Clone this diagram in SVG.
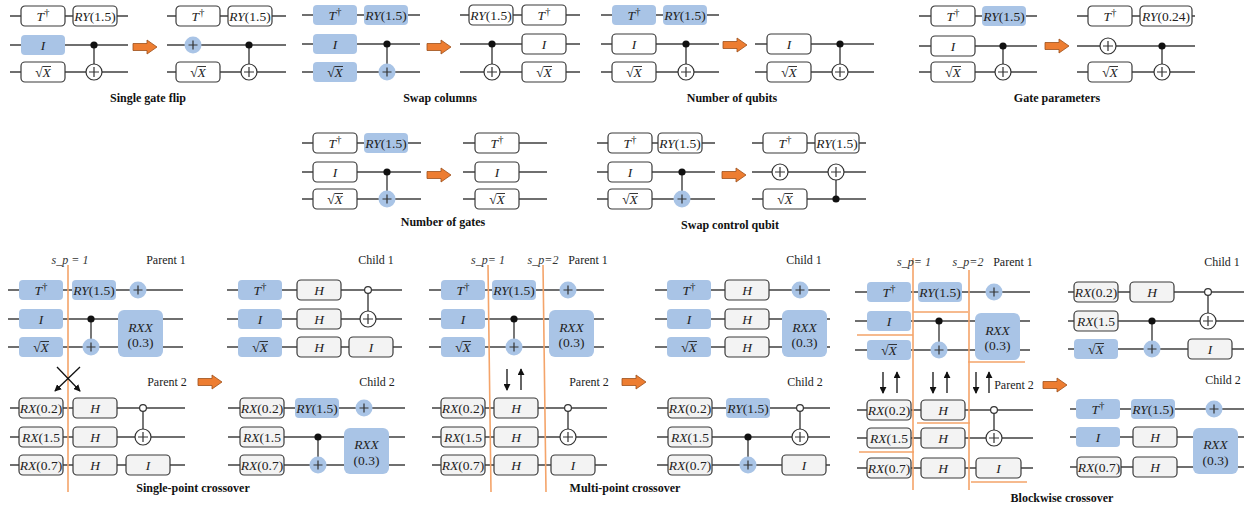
<svg xmlns="http://www.w3.org/2000/svg" xmlns:xlink="http://www.w3.org/1999/xlink" width="1244" height="508" viewBox="0 0 1244 508">
<style>
.w{stroke:#404040;stroke-width:1.3;fill:none}
.v{stroke:#303030;stroke-width:1.3;fill:none}
.g{fill:#fff;stroke:#3a3a3a;stroke-width:1.2}
.gg{fill:#f3f3f3;stroke:#3a3a3a;stroke-width:1.2}
.b{fill:#a9c4e6}
.t{font-family:"Liberation Serif",serif;font-size:13.5px;fill:#222;text-anchor:middle}
.i{font-style:italic}
.sup{font-size:10.5px}
.ov{stroke:#222;stroke-width:0.9}
.cap{font-family:"Liberation Serif",serif;font-size:12px;font-weight:bold;text-anchor:middle;fill:#111}
.lb{font-family:"Liberation Serif",serif;font-size:12px;text-anchor:middle;fill:#222}
.sp{font-family:"Liberation Serif",serif;font-size:12px;font-style:italic;text-anchor:middle;fill:#333}
.dot{fill:#111}
.od{fill:#fff;stroke:#333;stroke-width:1.2}
.tw{fill:#fff;stroke:#333;stroke-width:1.2}
.pl{stroke:#333;stroke-width:1.2;fill:none}
.oa{fill:#ED7D31;stroke:#9c4f1a;stroke-width:0.8}
.ol{stroke:#F4A46A;stroke-width:1.6;fill:none}
.ba{stroke:#111;stroke-width:1.3;fill:none;marker-end:url(#ah)}
</style>
<defs>
<marker id="ah" viewBox="0 0 8 8" refX="7" refY="4" markerWidth="7" markerHeight="7" orient="auto" markerUnits="userSpaceOnUse"><path d="M0,0L8,4L0,8Z" fill="#111"/></marker>
<g id="tgtW"><circle r="8" class="tw"/><path d="M-5,0H5M0,-5V5" class="pl"/></g>
<g id="tgtB"><circle r="8.5" class="b"/><path d="M-4.5,0H4.5M0,-4.5V4.5" class="pl"/></g>
<circle id="ctl" r="3.6" class="dot"/>
<circle id="octl" r="3.4" class="od"/>
<path id="oarrow" d="M0,-3.5H14V-7L24,0L14,7V3.5H0Z" class="oa"/>
</defs>
<rect width="1244" height="508" fill="#fff"/>

<g id="connectors">
<path class="w" d="M10,16H128M10,45H128M10,72H128M167,16H286M167,45H286M167,72H286"/>
<path class="v" d="M94,45V64M249,45V64"/>
<use xlink:href="#oarrow" x="133" y="47"/>
<path class="w" d="M302,15H420M302,44H420M302,72H420M460,15H580M460,44H580M460,72H580"/>
<path class="v" d="M387,44V64M492,44V64"/>
<use xlink:href="#oarrow" x="427" y="47"/>
<path class="w" d="M601,15H719M601,44H719M601,72H719M755,44H874M755,72H874"/>
<path class="v" d="M686,44V64M840,44V64"/>
<use xlink:href="#oarrow" x="723" y="45"/>
<path class="w" d="M919,16H1037M919,46H1037M919,72H1037M1077,16H1195M1077,46H1195M1077,72H1195"/>
<path class="v" d="M1003,46V64M1162,46V64"/>
<use xlink:href="#oarrow" x="1045" y="46"/>
<path class="w" d="M302,143H421M302,172H421M302,199H421M463,143H547M463,172H547M463,199H547"/>
<path class="v" d="M387,172V191"/>
<use xlink:href="#oarrow" x="427" y="175"/>
<path class="w" d="M597,143H715M597,172H715M597,199H715M752,143H866M752,172H866M752,199H866"/>
<path class="v" d="M682,172V191M836,180V199"/>
<use xlink:href="#oarrow" x="722" y="175"/>
<path class="w" d="M8,290H183M8,319H183M8,347H183M10,408H185M10,437H185M10,465H185M227,290H402M227,319H402M227,347H402M228,408H405M228,437H405M228,465H405"/>
<path class="v" d="M91,319V339M143,408V429M368,290V311M318,437V457"/>
<path class="ol" d="M68,265V492"/>
<path class="ba" d="M57,367L80,391"/>
<path class="ba" d="M80,367L55,391"/>
<use xlink:href="#oarrow" x="198" y="382"/>
<path class="w" d="M429,290H604M429,319H604M429,347H604M432,408H607M432,437H607M432,465H607M655,290H830M655,319H830M655,347H830M657,408H830M657,437H830M657,465H830"/>
<path class="v" d="M514,319V339M568,408V429M800,408V429M748,437V457"/>
<path class="ol" d="M488,265L491,492M543,265L546,492"/>
<path class="ba" d="M507,369V390"/>
<path class="ba" d="M521,390V369"/>
<use xlink:href="#oarrow" x="622" y="382"/>
<path class="w" d="M855,292H1030M855,321H1030M855,350H1030M857,410H1033M857,438H1033M857,468H1033M1068,292H1244M1068,321H1244M1068,349H1244M1070,409H1244M1070,437H1244M1070,467H1244"/>
<path class="v" d="M939,321V342M994,410V430M1208,292V313M1152,321V341"/>
<path class="ol" d="M913,258V490M969,270V490M857,335H913M913,312H968M968,362H1025M917,423H970M859,452H914M971,482H1027"/>
<path class="ba" d="M883,372V393"/><path class="ba" d="M897,393V372"/>
<path class="ba" d="M933,372V393"/><path class="ba" d="M947,393V372"/>
<path class="ba" d="M976,372V393"/><path class="ba" d="M989,393V372"/>
<use xlink:href="#oarrow" x="1043" y="385"/>
</g>

<g id="p1">
<g id="p1-l-t"><rect class="g" x="21" y="6" width="44" height="20" rx="4"/><text class="t" x="43" y="20.5"><tspan class="i">T</tspan><tspan class="sup" dy="-5">†</tspan></text></g>
<g id="p1-l-ry"><rect class="g" x="73" y="6" width="44" height="20" rx="4"/><text class="t" x="95" y="20.5"><tspan class="i">RY</tspan>(1.5)</text></g>
<g id="p1-l-i"><rect class="b" x="21" y="35" width="44" height="20" rx="4"/><text class="t i" x="43" y="49.5">I</text></g>
<g id="p1-l-sx"><rect class="g" x="21" y="62" width="44" height="20" rx="4"/><text class="t" x="43" y="76.5">√<tspan class="i">X</tspan></text><line class="ov" x1="42.5" y1="66.5" x2="51" y2="66.5"/></g>
<g id="p1-l-cx"><use xlink:href="#ctl" x="94" y="45"/><use xlink:href="#tgtW" x="94" y="72"/></g>
<g id="p1-r-t"><rect class="g" x="176" y="6" width="44" height="20" rx="4"/><text class="t" x="198" y="20.5"><tspan class="i">T</tspan><tspan class="sup" dy="-5">†</tspan></text></g>
<g id="p1-r-ry"><rect class="g" x="228" y="6" width="44" height="20" rx="4"/><text class="t" x="250" y="20.5"><tspan class="i">RY</tspan>(1.5)</text></g>
<g id="p1-r-x"><use xlink:href="#tgtB" x="193" y="45"/></g>
<g id="p1-r-sx"><rect class="g" x="176" y="62" width="44" height="20" rx="4"/><text class="t" x="198" y="76.5">√<tspan class="i">X</tspan></text><line class="ov" x1="197.5" y1="66.5" x2="206" y2="66.5"/></g>
<g id="p1-r-cx"><use xlink:href="#ctl" x="249" y="45"/><use xlink:href="#tgtW" x="249" y="72"/></g>
<text class="cap" x="148" y="102">Single gate flip</text>
</g>

<g id="p2">
<g id="p2-l-t"><rect class="b" x="313" y="5" width="44" height="20" rx="4"/><text class="t" x="335" y="19.5"><tspan class="i">T</tspan><tspan class="sup" dy="-5">†</tspan></text></g>
<g id="p2-l-ry"><rect class="b" x="364" y="5" width="44" height="20" rx="4"/><text class="t" x="386" y="19.5"><tspan class="i">RY</tspan>(1.5)</text></g>
<g id="p2-l-i"><rect class="b" x="313" y="34" width="44" height="20" rx="4"/><text class="t i" x="335" y="48.5">I</text></g>
<g id="p2-l-sx"><rect class="b" x="313" y="62" width="44" height="20" rx="4"/><text class="t" x="335" y="76.5">√<tspan class="i">X</tspan></text><line class="ov" x1="334.5" y1="66.5" x2="343" y2="66.5"/></g>
<g id="p2-l-cx"><use xlink:href="#ctl" x="387" y="44"/><use xlink:href="#tgtB" x="387" y="72"/></g>
<g id="p2-r-ry"><rect class="g" x="469" y="5" width="44" height="20" rx="4"/><text class="t" x="491" y="19.5"><tspan class="i">RY</tspan>(1.5)</text></g>
<g id="p2-r-t"><rect class="g" x="522" y="5" width="44" height="20" rx="4"/><text class="t" x="544" y="19.5"><tspan class="i">T</tspan><tspan class="sup" dy="-5">†</tspan></text></g>
<g id="p2-r-i"><rect class="g" x="522" y="34" width="44" height="20" rx="4"/><text class="t i" x="544" y="48.5">I</text></g>
<g id="p2-r-sx"><rect class="g" x="522" y="62" width="44" height="20" rx="4"/><text class="t" x="544" y="76.5">√<tspan class="i">X</tspan></text><line class="ov" x1="543.5" y1="66.5" x2="552" y2="66.5"/></g>
<g id="p2-r-cx"><use xlink:href="#ctl" x="492" y="44"/><use xlink:href="#tgtW" x="492" y="72"/></g>
<text class="cap" x="440" y="102">Swap columns</text>
</g>

<g id="p3">
<g id="p3-l-t"><rect class="b" x="612" y="5" width="44" height="20" rx="4"/><text class="t" x="634" y="19.5"><tspan class="i">T</tspan><tspan class="sup" dy="-5">†</tspan></text></g>
<g id="p3-l-ry"><rect class="b" x="663" y="5" width="44" height="20" rx="4"/><text class="t" x="685" y="19.5"><tspan class="i">RY</tspan>(1.5)</text></g>
<g id="p3-l-i"><rect class="g" x="612" y="34" width="44" height="20" rx="4"/><text class="t i" x="634" y="48.5">I</text></g>
<g id="p3-l-sx"><rect class="g" x="612" y="62" width="44" height="20" rx="4"/><text class="t" x="634" y="76.5">√<tspan class="i">X</tspan></text><line class="ov" x1="633.5" y1="66.5" x2="642" y2="66.5"/></g>
<g id="p3-l-cx"><use xlink:href="#ctl" x="686" y="44"/><use xlink:href="#tgtW" x="686" y="72"/></g>
<g id="p3-r-i"><rect class="g" x="767" y="34" width="44" height="20" rx="4"/><text class="t i" x="789" y="48.5">I</text></g>
<g id="p3-r-sx"><rect class="g" x="767" y="62" width="44" height="20" rx="4"/><text class="t" x="789" y="76.5">√<tspan class="i">X</tspan></text><line class="ov" x1="788.5" y1="66.5" x2="797" y2="66.5"/></g>
<g id="p3-r-cx"><use xlink:href="#ctl" x="840" y="44"/><use xlink:href="#tgtW" x="840" y="72"/></g>
<text class="cap" x="732" y="102">Number of qubits</text>
</g>

<g id="p4">
<g id="p4-l-t"><rect class="g" x="931" y="6" width="44" height="20" rx="4"/><text class="t" x="953" y="20.5"><tspan class="i">T</tspan><tspan class="sup" dy="-5">†</tspan></text></g>
<g id="p4-l-ry"><rect class="b" x="982" y="6" width="44" height="20" rx="4"/><text class="t" x="1004" y="20.5"><tspan class="i">RY</tspan>(1.5)</text></g>
<g id="p4-l-i"><rect class="g" x="931" y="36" width="44" height="20" rx="4"/><text class="t i" x="953" y="50.5">I</text></g>
<g id="p4-l-sx"><rect class="g" x="931" y="62" width="44" height="20" rx="4"/><text class="t" x="953" y="76.5">√<tspan class="i">X</tspan></text><line class="ov" x1="952.5" y1="66.5" x2="961" y2="66.5"/></g>
<g id="p4-l-cx"><use xlink:href="#ctl" x="1003" y="46"/><use xlink:href="#tgtW" x="1003" y="72"/></g>
<g id="p4-r-t"><rect class="g" x="1088" y="6" width="44" height="20" rx="4"/><text class="t" x="1110" y="20.5"><tspan class="i">T</tspan><tspan class="sup" dy="-5">†</tspan></text></g>
<g id="p4-r-ry"><rect class="g" x="1140" y="6" width="52" height="20" rx="4"/><text class="t" x="1166" y="20.5"><tspan class="i">RY</tspan>(0.24)</text></g>
<g id="p4-r-x"><use xlink:href="#tgtW" x="1108" y="46"/></g>
<g id="p4-r-sx"><rect class="g" x="1088" y="62" width="44" height="20" rx="4"/><text class="t" x="1110" y="76.5">√<tspan class="i">X</tspan></text><line class="ov" x1="1109.5" y1="66.5" x2="1118" y2="66.5"/></g>
<g id="p4-r-cx"><use xlink:href="#ctl" x="1162" y="46"/><use xlink:href="#tgtW" x="1162" y="72"/></g>
<text class="cap" x="1057" y="102">Gate parameters</text>
</g>

<g id="p5">
<g id="p5-l-t"><rect class="g" x="313" y="133" width="44" height="20" rx="4"/><text class="t" x="335" y="147.5"><tspan class="i">T</tspan><tspan class="sup" dy="-5">†</tspan></text></g>
<g id="p5-l-ry"><rect class="b" x="364" y="133" width="44" height="20" rx="4"/><text class="t" x="386" y="147.5"><tspan class="i">RY</tspan>(1.5)</text></g>
<g id="p5-l-i"><rect class="g" x="313" y="162" width="44" height="20" rx="4"/><text class="t i" x="335" y="176.5">I</text></g>
<g id="p5-l-sx"><rect class="g" x="313" y="189" width="44" height="20" rx="4"/><text class="t" x="335" y="203.5">√<tspan class="i">X</tspan></text><line class="ov" x1="334.5" y1="193.5" x2="343" y2="193.5"/></g>
<g id="p5-l-cx"><use xlink:href="#ctl" x="387" y="172"/><use xlink:href="#tgtB" x="387" y="199"/></g>
<g id="p5-r-t"><rect class="g" x="475" y="133" width="44" height="20" rx="4"/><text class="t" x="497" y="147.5"><tspan class="i">T</tspan><tspan class="sup" dy="-5">†</tspan></text></g>
<g id="p5-r-i"><rect class="g" x="475" y="162" width="44" height="20" rx="4"/><text class="t i" x="497" y="176.5">I</text></g>
<g id="p5-r-sx"><rect class="g" x="475" y="189" width="44" height="20" rx="4"/><text class="t" x="497" y="203.5">√<tspan class="i">X</tspan></text><line class="ov" x1="496.5" y1="193.5" x2="505" y2="193.5"/></g>
<text class="cap" x="443" y="226">Number of gates</text>
</g>

<g id="p6">
<g id="p6-l-t"><rect class="g" x="608" y="133" width="44" height="20" rx="4"/><text class="t" x="630" y="147.5"><tspan class="i">T</tspan><tspan class="sup" dy="-5">†</tspan></text></g>
<g id="p6-l-ry"><rect class="g" x="658" y="133" width="44" height="20" rx="4"/><text class="t" x="680" y="147.5"><tspan class="i">RY</tspan>(1.5)</text></g>
<g id="p6-l-i"><rect class="g" x="608" y="162" width="44" height="20" rx="4"/><text class="t i" x="630" y="176.5">I</text></g>
<g id="p6-l-sx"><rect class="g" x="608" y="189" width="44" height="20" rx="4"/><text class="t" x="630" y="203.5">√<tspan class="i">X</tspan></text><line class="ov" x1="629.5" y1="193.5" x2="638" y2="193.5"/></g>
<g id="p6-l-cx"><use xlink:href="#ctl" x="682" y="172"/><use xlink:href="#tgtB" x="682" y="199"/></g>
<g id="p6-r-t"><rect class="g" x="763" y="133" width="44" height="20" rx="4"/><text class="t" x="785" y="147.5"><tspan class="i">T</tspan><tspan class="sup" dy="-5">†</tspan></text></g>
<g id="p6-r-ry"><rect class="g" x="815" y="133" width="44" height="20" rx="4"/><text class="t" x="837" y="147.5"><tspan class="i">RY</tspan>(1.5)</text></g>
<g id="p6-r-x"><use xlink:href="#tgtW" x="780" y="172"/></g>
<g id="p6-r-sx"><rect class="g" x="763" y="189" width="44" height="20" rx="4"/><text class="t" x="785" y="203.5">√<tspan class="i">X</tspan></text><line class="ov" x1="784.5" y1="193.5" x2="793" y2="193.5"/></g>
<g id="p6-r-cx"><use xlink:href="#tgtW" x="836" y="172"/><use xlink:href="#ctl" x="836" y="199"/></g>
<text class="cap" x="730" y="229">Swap control qubit</text>
</g>

<g id="p7">
<text class="sp" x="70" y="264">s_p = 1</text>
<text class="lb" x="166" y="264">Parent 1</text>
<text class="lb" x="167" y="386">Parent 2</text>
<text class="lb" x="376" y="264">Child 1</text>
<text class="lb" x="377" y="386">Child 2</text>
<g id="p7-p1-t"><rect class="b" x="19" y="280" width="44" height="20" rx="4"/><text class="t" x="41" y="294.5"><tspan class="i">T</tspan><tspan class="sup" dy="-5">†</tspan></text></g>
<g id="p7-p1-ry"><rect class="b" x="72" y="280" width="44" height="20" rx="4"/><text class="t" x="94" y="294.5"><tspan class="i">RY</tspan>(1.5)</text></g>
<g id="p7-p1-x"><use xlink:href="#tgtB" x="138" y="290"/></g>
<g id="p7-p1-i"><rect class="b" x="19" y="309" width="44" height="20" rx="4"/><text class="t i" x="41" y="323.5">I</text></g>
<g id="p7-p1-sx"><rect class="b" x="19" y="337" width="44" height="20" rx="4"/><text class="t" x="41" y="351.5">√<tspan class="i">X</tspan></text><line class="ov" x1="40.5" y1="341.5" x2="49" y2="341.5"/></g>
<g id="p7-p1-cx"><use xlink:href="#ctl" x="91" y="319"/><use xlink:href="#tgtB" x="91" y="347"/></g>
<g id="p7-p1-rxx"><rect class="b" x="118" y="310" width="45" height="47" rx="6"/><text class="t i" x="140.5" y="331.5">RXX</text><text class="t" x="140.5" y="347">(0.3)</text></g>
<g id="p7-p2-rx1"><rect class="gg" x="19" y="398" width="44" height="20" rx="4"/><text class="t" x="41" y="412.5"><tspan class="i">RX</tspan>(0.2)</text></g>
<g id="p7-p2-h1"><rect class="gg" x="73" y="398" width="44" height="20" rx="4"/><text class="t i" x="95" y="412.5">H</text></g>
<g id="p7-p2-rx2"><rect class="gg" x="19" y="427" width="44" height="20" rx="4"/><text class="t" x="41" y="441.5"><tspan class="i">RX</tspan>(1.5</text></g>
<g id="p7-p2-h2"><rect class="gg" x="73" y="427" width="44" height="20" rx="4"/><text class="t i" x="95" y="441.5">H</text></g>
<g id="p7-p2-rx3"><rect class="gg" x="19" y="455" width="44" height="20" rx="4"/><text class="t" x="41" y="469.5"><tspan class="i">RX</tspan>(0.7)</text></g>
<g id="p7-p2-h3"><rect class="gg" x="73" y="455" width="44" height="20" rx="4"/><text class="t i" x="95" y="469.5">H</text></g>
<g id="p7-p2-i"><rect class="gg" x="126" y="455" width="44" height="20" rx="4"/><text class="t i" x="148" y="469.5">I</text></g>
<g id="p7-p2-cx"><use xlink:href="#octl" x="143" y="408"/><use xlink:href="#tgtW" x="143" y="437"/></g>
<g id="p7-c1-t"><rect class="b" x="238" y="280" width="44" height="20" rx="4"/><text class="t" x="260" y="294.5"><tspan class="i">T</tspan><tspan class="sup" dy="-5">†</tspan></text></g>
<g id="p7-c1-h1"><rect class="gg" x="297" y="280" width="44" height="20" rx="4"/><text class="t i" x="319" y="294.5">H</text></g>
<g id="p7-c1-i"><rect class="b" x="238" y="309" width="44" height="20" rx="4"/><text class="t i" x="260" y="323.5">I</text></g>
<g id="p7-c1-h2"><rect class="gg" x="297" y="309" width="44" height="20" rx="4"/><text class="t i" x="319" y="323.5">H</text></g>
<g id="p7-c1-sx"><rect class="b" x="238" y="337" width="44" height="20" rx="4"/><text class="t" x="260" y="351.5">√<tspan class="i">X</tspan></text><line class="ov" x1="259.5" y1="341.5" x2="268" y2="341.5"/></g>
<g id="p7-c1-h3"><rect class="gg" x="297" y="337" width="44" height="20" rx="4"/><text class="t i" x="319" y="351.5">H</text></g>
<g id="p7-c1-i2"><rect class="gg" x="349" y="337" width="44" height="20" rx="4"/><text class="t i" x="371" y="351.5">I</text></g>
<g id="p7-c1-cx"><use xlink:href="#octl" x="368" y="290"/><use xlink:href="#tgtW" x="368" y="319"/></g>
<g id="p7-c2-rx1"><rect class="gg" x="240" y="398" width="44" height="20" rx="4"/><text class="t" x="262" y="412.5"><tspan class="i">RX</tspan>(0.2)</text></g>
<g id="p7-c2-ry"><rect class="b" x="295" y="398" width="44" height="20" rx="4"/><text class="t" x="317" y="412.5"><tspan class="i">RY</tspan>(1.5)</text></g>
<g id="p7-c2-x"><use xlink:href="#tgtB" x="364" y="408"/></g>
<g id="p7-c2-rx2"><rect class="gg" x="240" y="427" width="44" height="20" rx="4"/><text class="t" x="262" y="441.5"><tspan class="i">RX</tspan>(1.5</text></g>
<g id="p7-c2-cx"><use xlink:href="#ctl" x="318" y="437"/><use xlink:href="#tgtB" x="318" y="465"/></g>
<g id="p7-c2-rx3"><rect class="gg" x="240" y="455" width="44" height="20" rx="4"/><text class="t" x="262" y="469.5"><tspan class="i">RX</tspan>(0.7)</text></g>
<g id="p7-c2-rxx"><rect class="b" x="344" y="428" width="45" height="46" rx="6"/><text class="t i" x="366.5" y="449">RXX</text><text class="t" x="366.5" y="465">(0.3)</text></g>
<text class="cap" x="193" y="492">Single-point crossover</text>
</g>

<g id="p8">
<text class="sp" x="488" y="264">s_p= 1</text>
<text class="sp" x="543" y="264">s_p=2</text>
<text class="lb" x="588" y="264">Parent 1</text>
<text class="lb" x="589" y="386">Parent 2</text>
<text class="lb" x="804" y="264">Child 1</text>
<text class="lb" x="805" y="386">Child 2</text>
<g id="p8-p1-t"><rect class="b" x="441" y="280" width="44" height="20" rx="4"/><text class="t" x="463" y="294.5"><tspan class="i">T</tspan><tspan class="sup" dy="-5">†</tspan></text></g>
<g id="p8-p1-ry"><rect class="b" x="492" y="280" width="44" height="20" rx="4"/><text class="t" x="514" y="294.5"><tspan class="i">RY</tspan>(1.5)</text></g>
<g id="p8-p1-x"><use xlink:href="#tgtB" x="568" y="290"/></g>
<g id="p8-p1-i"><rect class="b" x="441" y="309" width="44" height="20" rx="4"/><text class="t i" x="463" y="323.5">I</text></g>
<g id="p8-p1-sx"><rect class="b" x="441" y="337" width="44" height="20" rx="4"/><text class="t" x="463" y="351.5">√<tspan class="i">X</tspan></text><line class="ov" x1="462.5" y1="341.5" x2="471" y2="341.5"/></g>
<g id="p8-p1-cx"><use xlink:href="#ctl" x="514" y="319"/><use xlink:href="#tgtB" x="514" y="347"/></g>
<g id="p8-p1-rxx"><rect class="b" x="549" y="310" width="45" height="47" rx="6"/><text class="t i" x="571.5" y="331.5">RXX</text><text class="t" x="571.5" y="347">(0.3)</text></g>
<g id="p8-p2-rx1"><rect class="gg" x="441" y="398" width="44" height="20" rx="4"/><text class="t" x="463" y="412.5"><tspan class="i">RX</tspan>(0.2)</text></g>
<g id="p8-p2-h1"><rect class="gg" x="494" y="398" width="44" height="20" rx="4"/><text class="t i" x="516" y="412.5">H</text></g>
<g id="p8-p2-rx2"><rect class="gg" x="441" y="427" width="44" height="20" rx="4"/><text class="t" x="463" y="441.5"><tspan class="i">RX</tspan>(1.5</text></g>
<g id="p8-p2-h2"><rect class="gg" x="494" y="427" width="44" height="20" rx="4"/><text class="t i" x="516" y="441.5">H</text></g>
<g id="p8-p2-rx3"><rect class="gg" x="441" y="455" width="44" height="20" rx="4"/><text class="t" x="463" y="469.5"><tspan class="i">RX</tspan>(0.7)</text></g>
<g id="p8-p2-h3"><rect class="gg" x="494" y="455" width="44" height="20" rx="4"/><text class="t i" x="516" y="469.5">H</text></g>
<g id="p8-p2-i"><rect class="gg" x="551" y="455" width="44" height="20" rx="4"/><text class="t i" x="573" y="469.5">I</text></g>
<g id="p8-p2-cx"><use xlink:href="#octl" x="568" y="408"/><use xlink:href="#tgtW" x="568" y="437"/></g>
<g id="p8-c1-t"><rect class="b" x="667" y="280" width="44" height="20" rx="4"/><text class="t" x="689" y="294.5"><tspan class="i">T</tspan><tspan class="sup" dy="-5">†</tspan></text></g>
<g id="p8-c1-h1"><rect class="gg" x="725" y="280" width="44" height="20" rx="4"/><text class="t i" x="747" y="294.5">H</text></g>
<g id="p8-c1-x"><use xlink:href="#tgtB" x="800" y="290"/></g>
<g id="p8-c1-i"><rect class="b" x="667" y="309" width="44" height="20" rx="4"/><text class="t i" x="689" y="323.5">I</text></g>
<g id="p8-c1-h2"><rect class="gg" x="725" y="309" width="44" height="20" rx="4"/><text class="t i" x="747" y="323.5">H</text></g>
<g id="p8-c1-sx"><rect class="b" x="667" y="337" width="44" height="20" rx="4"/><text class="t" x="689" y="351.5">√<tspan class="i">X</tspan></text><line class="ov" x1="688.5" y1="341.5" x2="697" y2="341.5"/></g>
<g id="p8-c1-h3"><rect class="gg" x="725" y="337" width="44" height="20" rx="4"/><text class="t i" x="747" y="351.5">H</text></g>
<g id="p8-c1-rxx"><rect class="b" x="782" y="310" width="45" height="47" rx="6"/><text class="t i" x="804.5" y="331.5">RXX</text><text class="t" x="804.5" y="347">(0.3)</text></g>
<g id="p8-c2-rx1"><rect class="gg" x="668" y="398" width="44" height="20" rx="4"/><text class="t" x="690" y="412.5"><tspan class="i">RX</tspan>(0.2)</text></g>
<g id="p8-c2-ry"><rect class="b" x="726" y="398" width="44" height="20" rx="4"/><text class="t" x="748" y="412.5"><tspan class="i">RY</tspan>(1.5)</text></g>
<g id="p8-c2-cx1"><use xlink:href="#octl" x="800" y="408"/><use xlink:href="#tgtW" x="800" y="437"/></g>
<g id="p8-c2-rx2"><rect class="gg" x="668" y="427" width="44" height="20" rx="4"/><text class="t" x="690" y="441.5"><tspan class="i">RX</tspan>(1.5</text></g>
<g id="p8-c2-cx2"><use xlink:href="#ctl" x="748" y="437"/><use xlink:href="#tgtB" x="748" y="465"/></g>
<g id="p8-c2-rx3"><rect class="gg" x="668" y="455" width="44" height="20" rx="4"/><text class="t" x="690" y="469.5"><tspan class="i">RX</tspan>(0.7)</text></g>
<g id="p8-c2-i"><rect class="gg" x="782" y="455" width="44" height="20" rx="4"/><text class="t i" x="804" y="469.5">I</text></g>
<text class="cap" x="625" y="492">Multi-point crossover</text>
</g>

<g id="p9">
<text class="sp" x="914" y="266">s_p= 1</text>
<text class="sp" x="968" y="266">s_p=2</text>
<text class="lb" x="1013" y="266">Parent 1</text>
<text class="lb" x="1014" y="389">Parent 2</text>
<text class="lb" x="1222" y="266">Child 1</text>
<text class="lb" x="1223" y="384">Child 2</text>
<g id="p9-p1-t"><rect class="b" x="867" y="282" width="44" height="20" rx="4"/><text class="t" x="889" y="296.5"><tspan class="i">T</tspan><tspan class="sup" dy="-5">†</tspan></text></g>
<g id="p9-p1-ry"><rect class="b" x="918" y="282" width="44" height="20" rx="4"/><text class="t" x="940" y="296.5"><tspan class="i">RY</tspan>(1.5)</text></g>
<g id="p9-p1-x"><use xlink:href="#tgtB" x="994" y="292"/></g>
<g id="p9-p1-i"><rect class="b" x="867" y="311" width="44" height="20" rx="4"/><text class="t i" x="889" y="325.5">I</text></g>
<g id="p9-p1-sx"><rect class="b" x="867" y="340" width="44" height="20" rx="4"/><text class="t" x="889" y="354.5">√<tspan class="i">X</tspan></text><line class="ov" x1="888.5" y1="344.5" x2="897" y2="344.5"/></g>
<g id="p9-p1-cx"><use xlink:href="#ctl" x="939" y="321"/><use xlink:href="#tgtB" x="939" y="350"/></g>
<g id="p9-p1-rxx"><rect class="b" x="975" y="313" width="45" height="47" rx="6"/><text class="t i" x="997.5" y="334.5">RXX</text><text class="t" x="997.5" y="350">(0.3)</text></g>
<g id="p9-p2-rx1"><rect class="gg" x="867" y="400" width="44" height="20" rx="4"/><text class="t" x="889" y="414.5"><tspan class="i">RX</tspan>(0.2)</text></g>
<g id="p9-p2-h1"><rect class="gg" x="921" y="400" width="44" height="20" rx="4"/><text class="t i" x="943" y="414.5">H</text></g>
<g id="p9-p2-rx2"><rect class="gg" x="867" y="428" width="44" height="20" rx="4"/><text class="t" x="889" y="442.5"><tspan class="i">RX</tspan>(1.5</text></g>
<g id="p9-p2-h2"><rect class="gg" x="921" y="428" width="44" height="20" rx="4"/><text class="t i" x="943" y="442.5">H</text></g>
<g id="p9-p2-rx3"><rect class="gg" x="867" y="458" width="44" height="20" rx="4"/><text class="t" x="889" y="472.5"><tspan class="i">RX</tspan>(0.7)</text></g>
<g id="p9-p2-h3"><rect class="gg" x="921" y="458" width="44" height="20" rx="4"/><text class="t i" x="943" y="472.5">H</text></g>
<g id="p9-p2-i"><rect class="gg" x="976" y="458" width="45" height="20" rx="4"/><text class="t i" x="998.5" y="472.5">I</text></g>
<g id="p9-p2-cx"><use xlink:href="#octl" x="994" y="410"/><use xlink:href="#tgtW" x="994" y="438"/></g>
<g id="p9-c1-rx1"><rect class="gg" x="1074" y="282" width="44" height="20" rx="4"/><text class="t" x="1096" y="296.5"><tspan class="i">RX</tspan>(0.2)</text></g>
<g id="p9-c1-h"><rect class="gg" x="1130" y="282" width="44" height="20" rx="4"/><text class="t i" x="1152" y="296.5">H</text></g>
<g id="p9-c1-cx1"><use xlink:href="#octl" x="1208" y="292"/><use xlink:href="#tgtW" x="1208" y="321"/></g>
<g id="p9-c1-rx2"><rect class="gg" x="1074" y="311" width="44" height="20" rx="4"/><text class="t" x="1096" y="325.5"><tspan class="i">RX</tspan>(1.5</text></g>
<g id="p9-c1-cx2"><use xlink:href="#ctl" x="1152" y="321"/><use xlink:href="#tgtB" x="1152" y="349"/></g>
<g id="p9-c1-sx"><rect class="b" x="1074" y="339" width="44" height="20" rx="4"/><text class="t" x="1096" y="353.5">√<tspan class="i">X</tspan></text><line class="ov" x1="1095.5" y1="343.5" x2="1104" y2="343.5"/></g>
<g id="p9-c1-i"><rect class="gg" x="1188" y="339" width="44" height="20" rx="4"/><text class="t i" x="1210" y="353.5">I</text></g>
<g id="p9-c2-t"><rect class="b" x="1076" y="399" width="44" height="20" rx="4"/><text class="t" x="1098" y="413.5"><tspan class="i">T</tspan><tspan class="sup" dy="-5">†</tspan></text></g>
<g id="p9-c2-ry"><rect class="b" x="1131" y="399" width="44" height="20" rx="4"/><text class="t" x="1153" y="413.5"><tspan class="i">RY</tspan>(1.5)</text></g>
<g id="p9-c2-x"><use xlink:href="#tgtB" x="1214" y="409"/></g>
<g id="p9-c2-i"><rect class="b" x="1076" y="427" width="44" height="20" rx="4"/><text class="t i" x="1098" y="441.5">I</text></g>
<g id="p9-c2-h1"><rect class="gg" x="1133" y="427" width="44" height="20" rx="4"/><text class="t i" x="1155" y="441.5">H</text></g>
<g id="p9-c2-rx3"><rect class="gg" x="1077" y="457" width="44" height="20" rx="4"/><text class="t" x="1099" y="471.5"><tspan class="i">RX</tspan>(0.7)</text></g>
<g id="p9-c2-h2"><rect class="gg" x="1133" y="457" width="44" height="20" rx="4"/><text class="t i" x="1155" y="471.5">H</text></g>
<g id="p9-c2-rxx"><rect class="b" x="1193" y="428" width="45" height="46" rx="6"/><text class="t i" x="1215.5" y="449">RXX</text><text class="t" x="1215.5" y="465">(0.3)</text></g>
<text class="cap" x="1062" y="502">Blockwise crossover</text>
</g>
</svg>
